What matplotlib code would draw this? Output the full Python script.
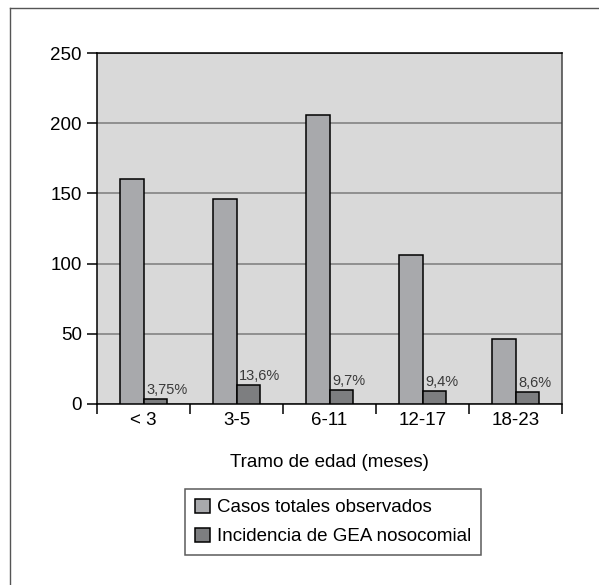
import matplotlib
matplotlib.use("Agg")
import matplotlib.pyplot as plt
from matplotlib.lines import Line2D
import numpy as np

plt.rcParams['font.family'] = ['Liberation Sans', 'DejaVu Sans']

# data
categories = ['< 3', '3-5', '6-11', '12-17', '18-23']
casos_totales = [160, 146, 206, 106, 46]
incidencia = [3.75, 13.6, 9.7, 9.4, 8.6]
incidencia_labels = ['3,75%', '13,6%', '9,7%', '9,4%', '8,6%']
y_ticks = [0, 50, 100, 150, 200, 250]

fig = plt.figure(figsize=(5.99, 5.85), dpi=100)
ax = fig.add_axes([97/599, 1 - 404/585, 465/599, 351/585])
ax.set_facecolor('#d9d9d9')

x = np.arange(len(categories))
w = 0.25
ax.bar(x - w/2, casos_totales, w, color='#a8a9ac', edgecolor='black', linewidth=1.1,
       label='Casos totales observados', zorder=3)
ax.bar(x + w/2, incidencia, w, color='#7d7e80', edgecolor='black', linewidth=1.1,
       label='Incidencia de GEA nosocomial', zorder=3)

for xi, v, lab in zip(x, incidencia, incidencia_labels):
    ax.text(xi + 0.03, v + 1.5, lab, ha='left', va='bottom', fontsize=10.5,
            color='#3a3a3a', zorder=4)

ax.set_xlim(-0.5, len(categories) - 0.5)
ax.set_ylim(0, 250)
ax.set_yticks(y_ticks)
ax.tick_params(axis='y', length=7, width=1.1, labelsize=13.5, pad=4)
ax.yaxis.grid(True, color='#8a8a8a', linewidth=1.3, zorder=1)

# category boundaries as major ticks, labels on minor ticks
ax.set_xticks(np.arange(-0.5, len(categories), 1.0))
ax.set_xticklabels([])
ax.set_xticks(x, minor=True)
ax.set_xticklabels(categories, minor=True)
ax.tick_params(axis='x', which='major', length=7, width=1.1)
ax.tick_params(axis='x', which='minor', length=0, labelsize=13.5, pad=6)
ax.set_xlabel('Tramo de edad (meses)', fontsize=13.5, labelpad=18)

for s in ax.spines.values():
    s.set_linewidth(1.1)
    s.set_color('black')
ax.spines['right'].set_color('#444444')

leg = fig.legend(loc='center', bbox_to_anchor=(333/599, 1 - 522/585), fontsize=13.5,
                 frameon=True, fancybox=False, edgecolor='#333333',
                 handlelength=0.8, handleheight=0.8, handletextpad=0.4,
                 labelspacing=0.6, borderpad=0.5)
leg.get_frame().set_linewidth(1.1)

# outer frame (top and left only)
fig.add_artist(Line2D([10/599, 1], [1 - 8/585, 1 - 8/585], color='#555555', linewidth=1.0))
fig.add_artist(Line2D([10/599, 10/599], [0, 1 - 8/585], color='#555555', linewidth=1.0))

fig.savefig('out.png', dpi=100)
